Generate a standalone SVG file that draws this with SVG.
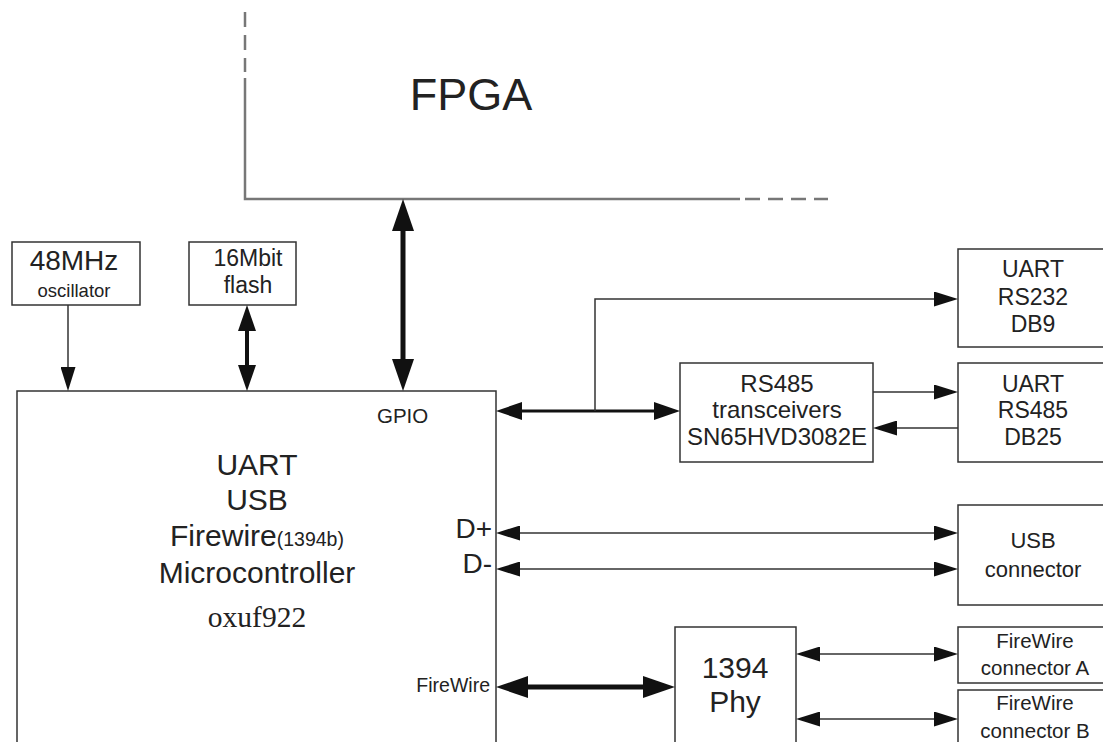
<svg xmlns="http://www.w3.org/2000/svg" width="1103" height="742" viewBox="0 0 1103 742">
<style>
text{font-family:"Liberation Sans",Arial,sans-serif;fill:#222}
.c{text-anchor:middle}
.box{fill:#fff;stroke:#333;stroke-width:1.5}
.thin{stroke:#333;stroke-width:1.5;fill:none}
.fp{stroke:#777;stroke-width:2.5;fill:none}
</style>
<defs>
<marker id="a" markerUnits="userSpaceOnUse" markerWidth="24" markerHeight="15" refX="14" refY="7.5" orient="auto-start-reverse"><path d="M0,0L24,7.5L0,15z" fill="#111"/></marker>
<marker id="m" markerUnits="userSpaceOnUse" markerWidth="26" markerHeight="18" refX="16" refY="9" orient="auto-start-reverse"><path d="M0,0L26,9L0,18z" fill="#111"/></marker>
<marker id="t" markerUnits="userSpaceOnUse" markerWidth="32" markerHeight="22" refX="22" refY="11" orient="auto-start-reverse"><path d="M0,0L32,11L0,22z" fill="#111"/></marker>
</defs>
<g id="fpga">
<path class="fp" d="M245,78V199H740"/>
<path class="fp" d="M245,12V72M745,199H828" stroke-dasharray="15,8"/>
<text class="c" x="471" y="110" font-size="45">FPGA</text>
</g>
<g id="osc">
<rect class="box" x="12" y="242" width="128" height="63"/>
<text class="c" x="74" y="270" font-size="28">48MHz</text>
<text class="c" x="74" y="297" font-size="18.5">oscillator</text>
</g>
<g id="flash">
<rect class="box" x="189" y="242" width="107" height="63"/>
<text class="c" x="248" y="266" font-size="23">16Mbit</text>
<text class="c" x="248" y="293" font-size="23">flash</text>
</g>
<g id="mcu">
<rect class="box" x="17" y="391" width="479" height="400"/>
<text x="377" y="423" font-size="20.5">GPIO</text>
<text class="c" x="257" y="475" font-size="30">UART</text>
<text class="c" x="257" y="510" font-size="30">USB</text>
<text class="c" x="257" y="546" font-size="30">Firewire<tspan font-size="19.5">(1394b)</tspan></text>
<text class="c" x="257" y="583" font-size="30">Microcontroller</text>
<text class="c" x="257" y="627" font-size="29.5" style="font-family:'Liberation Serif',serif">oxuf922</text>
<text x="492" y="538" font-size="28" text-anchor="end">D+</text>
<text x="492" y="573" font-size="28" text-anchor="end">D-</text>
<text x="490" y="692" font-size="19.5" text-anchor="end">FireWire</text>
</g>
<g id="rs485t">
<rect class="box" x="680" y="363" width="193" height="99"/>
<text class="c" x="777" y="392" font-size="24">RS485</text>
<text class="c" x="777" y="418" font-size="24">transceivers</text>
<text class="c" x="777" y="445" font-size="24">SN65HVD3082E</text>
</g>
<g id="rs232">
<rect class="box" x="958" y="249" width="150" height="98"/>
<text class="c" x="1033" y="277" font-size="23">UART</text>
<text class="c" x="1033" y="305" font-size="23">RS232</text>
<text class="c" x="1033" y="332" font-size="23">DB9</text>
</g>
<g id="rs485">
<rect class="box" x="958" y="363" width="150" height="99"/>
<text class="c" x="1033" y="392" font-size="23">UART</text>
<text class="c" x="1033" y="418" font-size="23">RS485</text>
<text class="c" x="1033" y="445" font-size="23">DB25</text>
</g>
<g id="usb">
<rect class="box" x="958" y="505" width="150" height="100"/>
<text class="c" x="1033" y="548" font-size="22">USB</text>
<text class="c" x="1033" y="577" font-size="22">connector</text>
</g>
<g id="phy">
<rect class="box" x="675" y="627" width="121" height="130"/>
<text class="c" x="735" y="678" font-size="30">1394</text>
<text class="c" x="735" y="712" font-size="30">Phy</text>
</g>
<g id="fwa">
<rect class="box" x="958" y="627" width="150" height="56"/>
<text class="c" x="1035" y="648" font-size="20.5">FireWire</text>
<text class="c" x="1035" y="675" font-size="20.5">connector A</text>
</g>
<g id="fwb">
<rect class="box" x="958" y="690" width="150" height="70"/>
<text class="c" x="1035" y="710" font-size="20.5">FireWire</text>
<text class="c" x="1035" y="738" font-size="20.5">connector B</text>
</g>
<g id="connectors">
<path class="thin" d="M68,305V381" marker-end="url(#a)"/>
<path d="M247,315V381" stroke="#111" stroke-width="4" marker-start="url(#m)" marker-end="url(#m)"/>
<path d="M403,209V381" stroke="#111" stroke-width="5" marker-start="url(#t)" marker-end="url(#t)"/>
<path d="M506,411H670" stroke="#111" stroke-width="3" marker-start="url(#m)" marker-end="url(#m)"/>
<path class="thin" d="M595,411V299H948" marker-end="url(#a)"/>
<path class="thin" d="M873,392H948" marker-end="url(#a)"/>
<path class="thin" d="M958,428H883" marker-end="url(#a)"/>
<path class="thin" d="M506,533H948" marker-start="url(#a)" marker-end="url(#a)"/>
<path class="thin" d="M506,569H948" marker-start="url(#a)" marker-end="url(#a)"/>
<path d="M506,687H665" stroke="#111" stroke-width="5" marker-start="url(#t)" marker-end="url(#t)"/>
<path class="thin" d="M806,654H948" marker-start="url(#a)" marker-end="url(#a)"/>
<path class="thin" d="M806,719H948" stroke-width="2.5" marker-start="url(#a)" marker-end="url(#a)"/>
</g>
</svg>
